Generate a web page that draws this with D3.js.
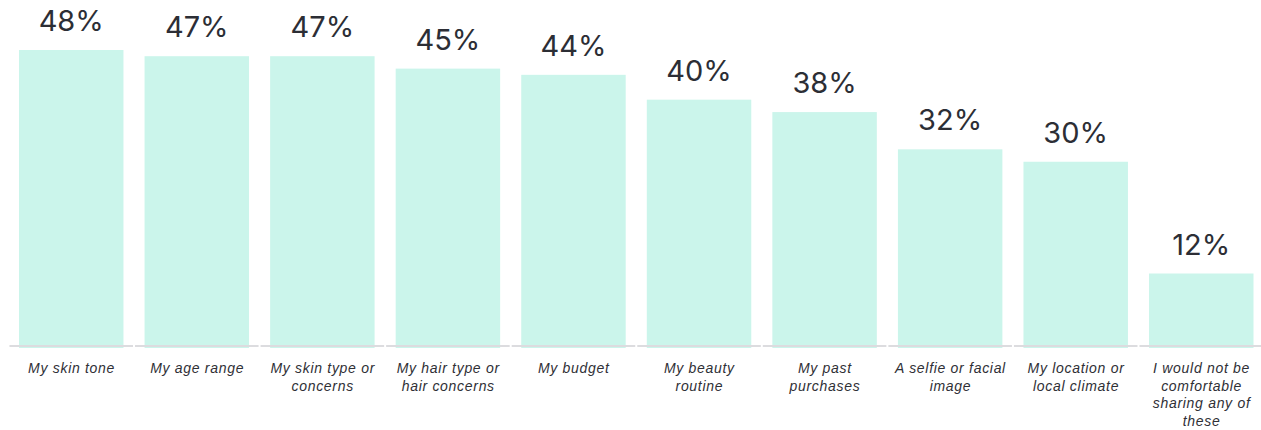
<!DOCTYPE html>
<html>
<head>
<meta charset="utf-8">
<script src="https://cdn.jsdelivr.net/npm/d3@7"></script>
<style>
  html, body { margin: 0; padding: 0; background: #ffffff; }
  svg { display: block; }
</style>
</head>
<body>
<svg id="chart" width="1261" height="430"></svg>
<script>
// ---- data ----
const categories = [
  "My skin tone",
  "My age range",
  "My skin type or concerns",
  "My hair type or hair concerns",
  "My budget",
  "My beauty routine",
  "My past purchases",
  "A selfie or facial image",
  "My location or local climate",
  "I would not be comfortable sharing any of these"
];
const categoryLines = [
  ["My skin tone"],
  ["My age range"],
  ["My skin type or", "concerns"],
  ["My hair type or", "hair concerns"],
  ["My budget"],
  ["My beauty", "routine"],
  ["My past", "purchases"],
  ["A selfie or facial", "image"],
  ["My location or", "local climate"],
  ["I would not be", "comfortable", "sharing any of", "these"]
];
const values = [48, 47, 47, 45, 44, 40, 38, 32, 30, 12];
const valueLabels = ["48%", "47%", "47%", "45%", "44%", "40%", "38%", "32%", "30%", "12%"];

// ---- layout ----
const svg = d3.select("#chart");
const baseline = 346;

const x = d3.scaleBand()
  .domain(categories)
  .range([7.5, 1265])
  .paddingInner(0.168)
  .paddingOuter(0.0916);

const y = d3.scaleLinear()
  .domain([0, 48])
  .range([348, 50]);

const step = x.step();
const bw = x.bandwidth();
const halfGap = (step - bw) / 2;

// bars
svg.append("g").selectAll("rect")
  .data(categories)
  .join("rect")
  .attr("x", d => x(d))
  .attr("y", (d, i) => y(values[i]))
  .attr("width", bw)
  .attr("height", (d, i) => y(0) - y(values[i]))
  .attr("fill", "#cbf5eb");

// axis segments (one per category)
svg.append("g").selectAll("line")
  .data(categories)
  .join("line")
  .attr("x1", d => x(d) - halfGap + 1)
  .attr("x2", d => x(d) + bw + halfGap - 1)
  .attr("y1", baseline)
  .attr("y2", baseline)
  .attr("stroke", "#dcdcdf")
  .attr("stroke-width", 2);

// value labels
svg.append("g").selectAll("text")
  .data(categories)
  .join("text")
  .attr("x", d => x(d) + bw / 2)
  .attr("y", (d, i) => y(values[i]) - 19)
  .attr("text-anchor", "middle")
  .attr("font-family", "Inter, 'Noto Sans', sans-serif")
  .attr("font-size", 29)
  .attr("fill", "#2c2e35")
  .text((d, i) => valueLabels[i]);

// category labels
const cat = svg.append("g").selectAll("text")
  .data(categories)
  .join("text")
  .attr("text-anchor", "middle")
  .attr("font-family", "'Liberation Sans', Arial, sans-serif")
  .attr("font-style", "italic")
  .attr("font-size", 14)
  .attr("letter-spacing", 0.7)
  .attr("fill", "#2f3036");

cat.each(function(d, i) {
  const t = d3.select(this);
  categoryLines[i].forEach((line, j) => {
    t.append("tspan")
      .attr("x", x(d) + bw / 2 + 0.35)
      .attr("y", 373 + j * 17.7)
      .text(line);
  });
});
</script>
</body>
</html>
